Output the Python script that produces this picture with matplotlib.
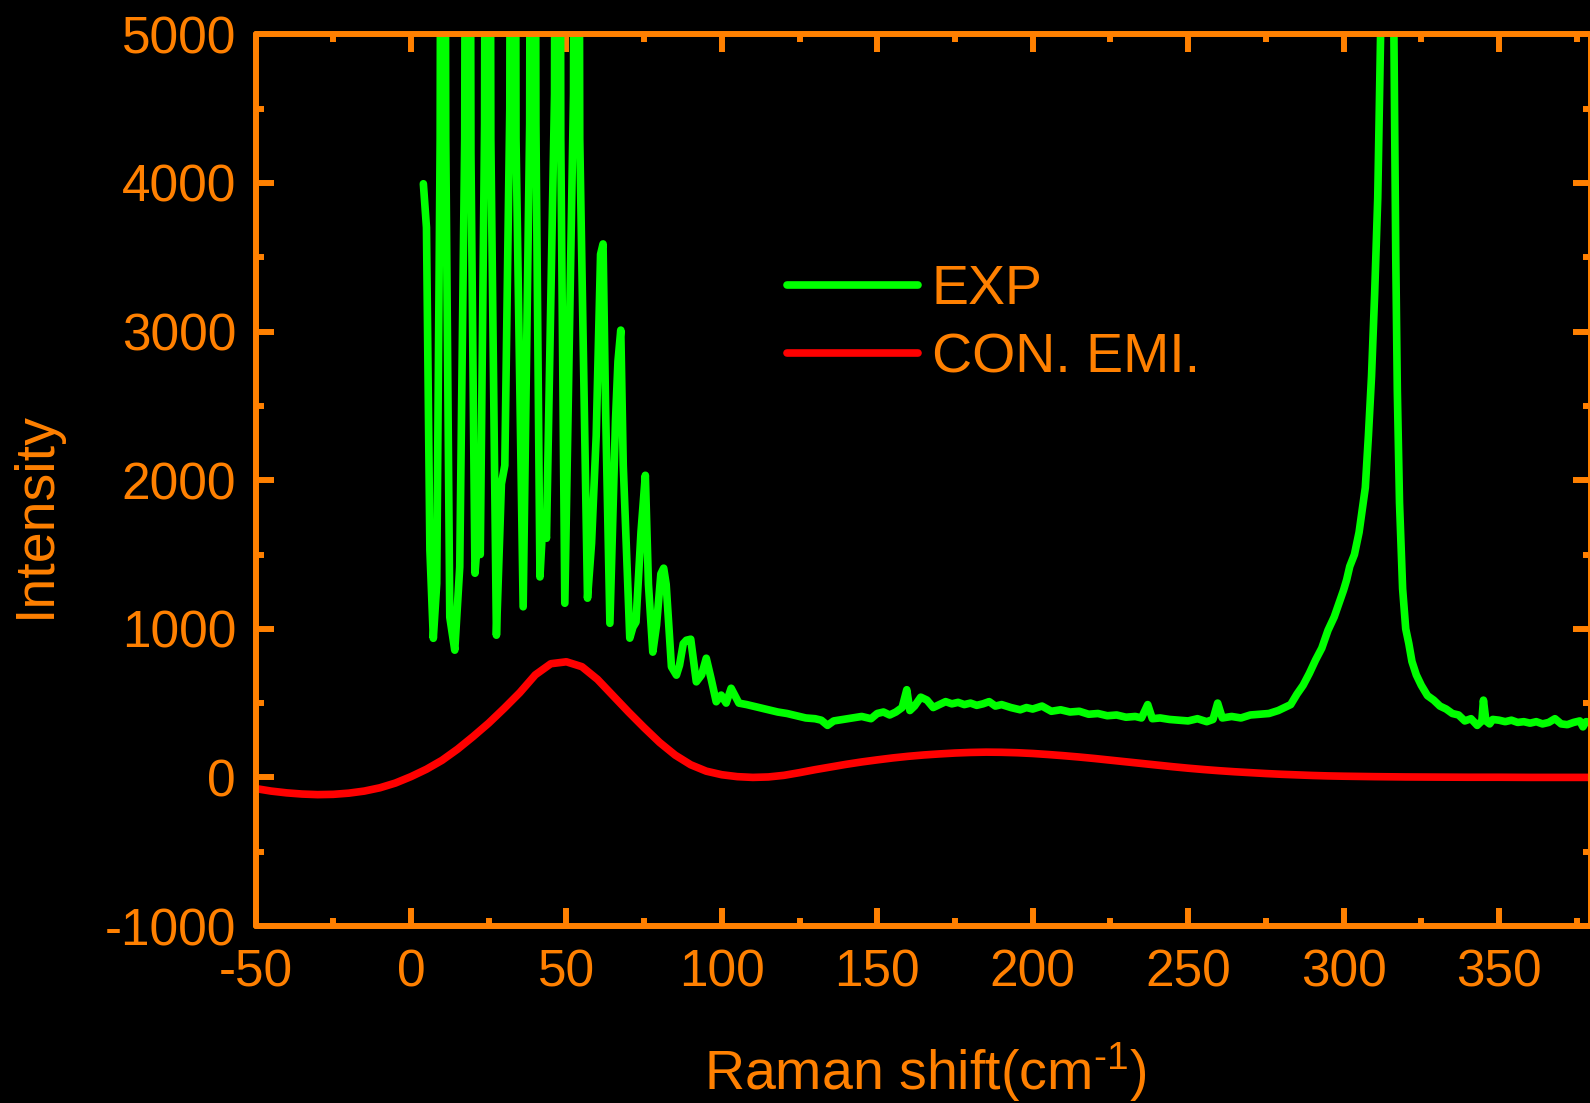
import matplotlib
matplotlib.use("Agg")
import matplotlib.pyplot as plt
from matplotlib.ticker import MultipleLocator

plt.rcParams['font.family'] = ['Liberation Sans', 'DejaVu Sans']
plt.rcParams['mathtext.fontset'] = 'custom'
plt.rcParams['mathtext.rm'] = 'Liberation Sans'
plt.rcParams['mathtext.default'] = 'regular'
plt.rcParams['axes.unicode_minus'] = False

ORANGE = '#FF8000'

# ---- EXP spectrum (green) ----
exp_x = [4.0, 5.0, 6.1, 7.2, 8.3, 9.4, 10.3, 11.2, 12.5, 14.1, 15.7, 17.3, 18.3, 19.3,
         20.6, 21.6, 22.3, 23.7, 24.7, 25.7, 27.5, 29.1, 30.2, 31.8, 32.8, 33.8, 36.1,
         38.2, 39.2, 40.2, 41.5, 42.5, 43.6, 46.2, 47.2, 48.2, 49.5, 52.3, 53.3, 54.3,
         56.8, 58.1, 59.6, 61.0, 61.8, 62.6, 64.0, 65.8, 66.6, 67.5, 68.3, 70.4, 71.4,
         72.4, 74.0, 75.4, 76.4, 77.8, 79.0, 80.4, 81.3, 82.1, 83.8, 85.4, 86.4, 87.6,
         88.6, 90.0, 91.8, 93.5, 95.0, 96.6, 98.2, 99.8, 101.4, 103.0, 105.5, 108.0,
         110.0, 112.0,
         115, 118, 121, 124, 127, 130, 132, 134, 136, 139, 142, 145, 148, 150, 152, 154,
         156, 158, 159.5, 160.5, 162, 164, 166, 168, 170, 172, 174, 176, 178, 180, 182,
         184, 186, 188, 190, 193, 196, 198, 200, 203, 206, 209, 212, 215, 218, 221, 224,
         227, 230, 233, 235, 237, 238.5, 241, 244, 247, 250, 253, 256, 258, 259.5, 261,
         264, 267, 270, 273, 276, 279, 281, 283, 285, 287, 289, 291, 293, 295, 297, 299,
         300, 301, 302, 303.5, 305, 306, 307, 308, 309, 310, 311, 312, 313, 314.3, 315.5,
         316.2, 316.8, 317.3, 318, 319, 320, 321, 322, 323.4, 325, 327, 329, 331, 333,
         335, 337, 339, 341, 343, 344.5, 345, 345.8, 347, 348, 350, 352, 354, 356, 358,
         360, 362, 364, 366, 368, 370, 372, 374, 376, 377, 378, 380]
exp_y = [3995, 3700, 1530, 936, 1305, 4300, 14000, 4300, 1078, 856, 1416, 4300, 15000, 4200,
         1374, 1650, 1500, 4400, 16000, 4300, 957, 1975, 2100, 4500, 16000, 4300, 1148,
         4400, 17000, 4400, 1349, 1742, 1609, 4600, 18000, 4300, 1172, 4600, 14000, 4300,
         1206, 1576, 2300, 3520, 3590, 2500, 1037, 2400, 2800, 3010, 2100, 937, 1010,
         1045, 1650, 2033, 1300, 843, 1024, 1370, 1408, 1300, 744, 688, 755, 900,
         923, 930, 643, 690, 802, 660, 509, 554, 500, 600, 500, 490,
         480, 470,
         455, 440, 430, 415, 400, 395, 385, 350, 380, 390, 400, 410, 395, 430, 440, 420,
         440, 470, 590, 450, 480, 540, 520, 470, 490, 510, 495, 505, 490, 500, 485,
         495, 510, 480, 490, 470, 455, 470, 460, 480, 445, 455, 440, 445, 425, 430, 415,
         420, 405, 410, 400, 490, 395, 400, 390, 385, 380, 395, 375, 390, 500, 400,
         410, 400, 420, 425, 430, 450, 470, 490, 560, 620, 700, 790, 870, 990, 1080, 1200,
         1260, 1330, 1420, 1500, 1650, 1800, 1950, 2300, 2700, 3250, 3900, 5100, 8000, 11000, 8000,
         5000, 3500, 2600, 1850, 1270, 1000, 900, 780, 690, 620, 550, 520, 480, 460,
         430, 420, 380, 395, 350, 380, 520, 380, 360, 390, 385, 375, 385, 370, 375,
         365, 375, 360, 370, 395, 360, 355, 370, 380, 340, 375, 370]

# ---- CON. EMI. curve (red) ----
emi_x = [-50, -45, -40, -35, -30, -25, -20, -15, -10, -5, 0, 5, 10, 15, 20, 25, 30, 35, 40,
         45, 50, 55, 60, 65, 70, 75, 80, 85, 90, 95, 100, 105, 110, 115, 120, 125, 130, 135,
         140, 145, 150, 155, 160, 165, 170, 175, 180, 185, 190, 195, 200, 205, 210, 215, 220,
         225, 230, 235, 240, 245, 250, 255, 260, 265, 270, 275, 280, 285, 290, 295, 300, 310,
         320, 330, 340, 350, 360, 370, 380]
emi_y = [-75, -92, -104, -112, -116, -114, -106, -92, -70, -38, 5, 55, 115, 190, 275, 365,
         465, 570, 690, 765, 778, 745, 660, 550, 440, 335, 235, 150, 85, 42, 18, 5, 0, 3,
         14, 32, 52, 70, 88, 104, 118, 131, 142, 151, 158, 164, 168, 170, 169, 166, 161,
         154, 146, 137, 127, 116, 105, 94, 83, 72, 62, 53, 45, 38, 32, 26, 21, 17, 13, 10,
         8, 5, 3, 2, 1, 1, 0, 0, 0]

legend_labels = ['EXP', 'CON. EMI.']
x_label = 'Raman shift(cm$^{\u2010' + '1}$)'
y_label = 'Intensity'

fig = plt.figure(figsize=(15.9, 11.03), dpi=100, facecolor='black')
L, R, T, B = 255.5, 1591.0, 34.4, 926.0
ax = fig.add_axes([L / 1590, 1 - B / 1103, (R - L) / 1590, (B - T) / 1103])
ax.set_facecolor('black')

ax.plot(exp_x, exp_y, color='#00FF00', lw=5.5, solid_joinstyle='round',
        solid_capstyle='round', label=legend_labels[0])
ax.plot(emi_x, emi_y, color='#FF0000', lw=5.5, solid_joinstyle='round',
        solid_capstyle='round', label=legend_labels[1])

ax.set_xlim(-50, 379.6)
ax.set_ylim(-1000, 5000)
ax.xaxis.set_major_locator(MultipleLocator(50))
ax.xaxis.set_minor_locator(MultipleLocator(25))
ax.yaxis.set_major_locator(MultipleLocator(1000))
ax.yaxis.set_minor_locator(MultipleLocator(500))

for s in ax.spines.values():
    s.set_color(ORANGE)
    s.set_linewidth(4.3)
    s.set_capstyle('round')

ax.tick_params(which='both', direction='in', top=True, right=True, color=ORANGE,
               width=4.3, labelcolor=ORANGE, labelsize=37)
ax.tick_params(which='major', length=13)
ax.tick_params(which='minor', length=6)
ax.tick_params(axis='x', which='major', pad=16)
ax.tick_params(axis='y', which='major', pad=14)

fig.text(925.5 / 1590, 1 - 1090 / 1103, x_label, color=ORANGE, fontsize=40,
         ha='center', va='baseline')
fig.text(35.5 / 1590, 1 - 515 / 1103, y_label, color=ORANGE, fontsize=40,
         ha='center', va='center', rotation=90)

leg = ax.legend(loc='upper left', bbox_to_anchor=((787 - L) / (R - L), (B - 264) / (B - T)),
                frameon=False, fontsize=40, handlelength=2.36, handletextpad=0.25,
                borderpad=0, borderaxespad=0, labelspacing=0.29)
for t in leg.get_texts():
    t.set_color(ORANGE)

fig.savefig('out.png', dpi=100, facecolor='black')
